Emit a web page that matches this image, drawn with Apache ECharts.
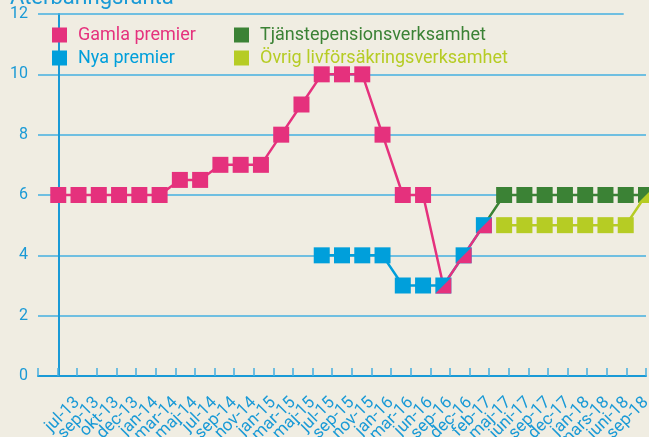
<!DOCTYPE html>
<html>
<head>
<meta charset="utf-8">
<style>
  html, body { margin: 0; background: #f0ede2; }
  #chart { width: 649px; height: 437px; }
</style>
<script src="https://cdn.jsdelivr.net/npm/echarts@6/dist/echarts.min.js"></script>
</head>
<body>
<div id="chart"></div>
<script>
// värden, ett värde per månad
const months = ['jul-13', 'sep-13', 'okt-13', 'dec-13', 'jan-14', 'mar-14', 'maj-14', 'jul-14', 'sep-14', 'nov-14',
  'jan-15', 'mar-15', 'maj-15', 'jul-15', 'sep-15', 'nov-15', 'jan-16', 'mar-16', 'jun-16', 'sep-16',
  'dec-16', 'feb-17', 'maj-17', 'juni-17', 'sep-17', 'dec-17', 'jan-18', 'mars-18', 'juni-18', 'sep-18']
const _ = null
const gamla = [6, 6, 6, 6, 6, 6, 6.5, 6.5, 7, 7, 7, 8, 9, 10, 10, 10, 8, 6, 6, 3, 4, 5, _, _, _, _, _, _, _, _]
const nya = [_, _, _, _, _, _, _, _, _, _, _, _, _, 4, 4, 4, 4, 3, 3, 3, 4, 5, _, _, _, _, _, _, _, _]
const tjanste = [_, _, _, _, _, _, _, _, _, _, _, _, _, _, _, _, _, _, _, _, _, 5, 6, 6, 6, 6, 6, 6, 6, 6]
const ovrig = [_, _, _, _, _, _, _, _, _, _, _, _, _, _, _, _, _, _, _, _, _, _, 5, 5, 5, 5, 5, 5, 5, 6]

const BLUE = '#1a9ad6'
const GRID = '#45afe0'
const colors = { gamla: '#e5317d', nya: '#009fdb', tjanste: '#3b8235', ovrig: '#b6cc24' }
const half = 'path://M1,0L1,1L0,1Z'

// där två serier har samma värde ritas övre serien som halv ruta
function items(values, under, hideFirst) {
  const out = []
  values.forEach((v, i) => {
    if (v === null)
      return
    const item = { value: [i, v] }
    if (under && under[i] === v)
      item.symbol = half
    out.push(item)
  })
  if (hideFirst)
    out[0].symbol = 'none'
  return out
}

function line(name, data, color) {
  return {
    name,
    type: 'line',
    xAxisIndex: 1,
    data,
    symbol: 'rect',
    symbolSize: 16,
    color,
    lineStyle: { width: 2.5, color },
    itemStyle: { color },
  }
}

function legend(left, entries) {
  return {
    orient: 'vertical',
    left,
    top: 26,
    padding: 0,
    icon: 'rect',
    itemWidth: 15,
    itemHeight: 15,
    itemGap: 5,
    textStyle: { fontSize: 18, lineHeight: 15, padding: [0, 0, 0, 6] },
    data: entries.map(([name, key]) => ({ name, textStyle: { color: colors[key] } })),
  }
}

const chart = echarts.init(document.getElementById('chart'))
const font = 'Roboto'

chart.setOption({
  backgroundColor: '#f0ede2',
  animation: false,
  textStyle: { fontFamily: font },
  title: {
    text: 'Återbäringsränta',
    left: 10,
    top: -13,
    padding: 0,
    textStyle: { color: BLUE, fontSize: 22, fontWeight: 'normal', fontFamily: font },
  },
  legend: [
    legend(52, [['Gamla premier', 'gamla'], ['Nya premier', 'nya']]),
    legend(234, [['Tjänstepensionsverksamhet', 'tjanste'], ['Övrig livförsäkringsverksamhet', 'ovrig']]),
  ],
  grid: { left: 38, right: 3, top: 14, bottom: 61, outerBoundsMode: 'none' },
  xAxis: [
    {
      type: 'category',
      boundaryGap: false,
      data: ['', ''].concat(months),
      axisLine: { lineStyle: { color: BLUE, width: 2 } },
      axisTick: { inside: true, length: 8, interval: 0, lineStyle: { color: GRID, width: 1.5 } },
      axisLabel: { interval: 0, rotate: 45, margin: 24, color: BLUE, fontSize: 17 },
      splitLine: { show: false },
    },
    { type: 'value', min: -1, max: 29, show: false },
  ],
  yAxis: {
    type: 'value',
    min: 0,
    max: 12,
    interval: 2,
    axisLine: { show: true, lineStyle: { color: BLUE, width: 2 } },
    axisTick: { show: false },
    axisLabel: { color: BLUE, fontSize: 16, margin: 10, padding: [12, 0, 0, 0] },
    splitLine: { lineStyle: { color: [GRID, GRID, GRID, GRID, GRID, GRID, 'transparent'], width: 1.5 } },
  },
  series: [
    Object.assign(line('Nya premier', items(nya), colors.nya), {
      markLine: {
        silent: true,
        symbol: 'none',
        label: { show: false },
        lineStyle: { color: GRID, width: 1.5, type: 'solid' },
        data: [[{ coord: [-1, 12] }, { coord: [27.9, 12] }]],
      },
    }),
    line('Gamla premier', items(gamla, nya), colors.gamla),
    line('Tjänstepensionsverksamhet', items(tjanste, null, true), colors.tjanste),
    line('Övrig livförsäkringsverksamhet', items(ovrig, tjanste), colors.ovrig),
  ],
})
</script>
</body>
</html>
